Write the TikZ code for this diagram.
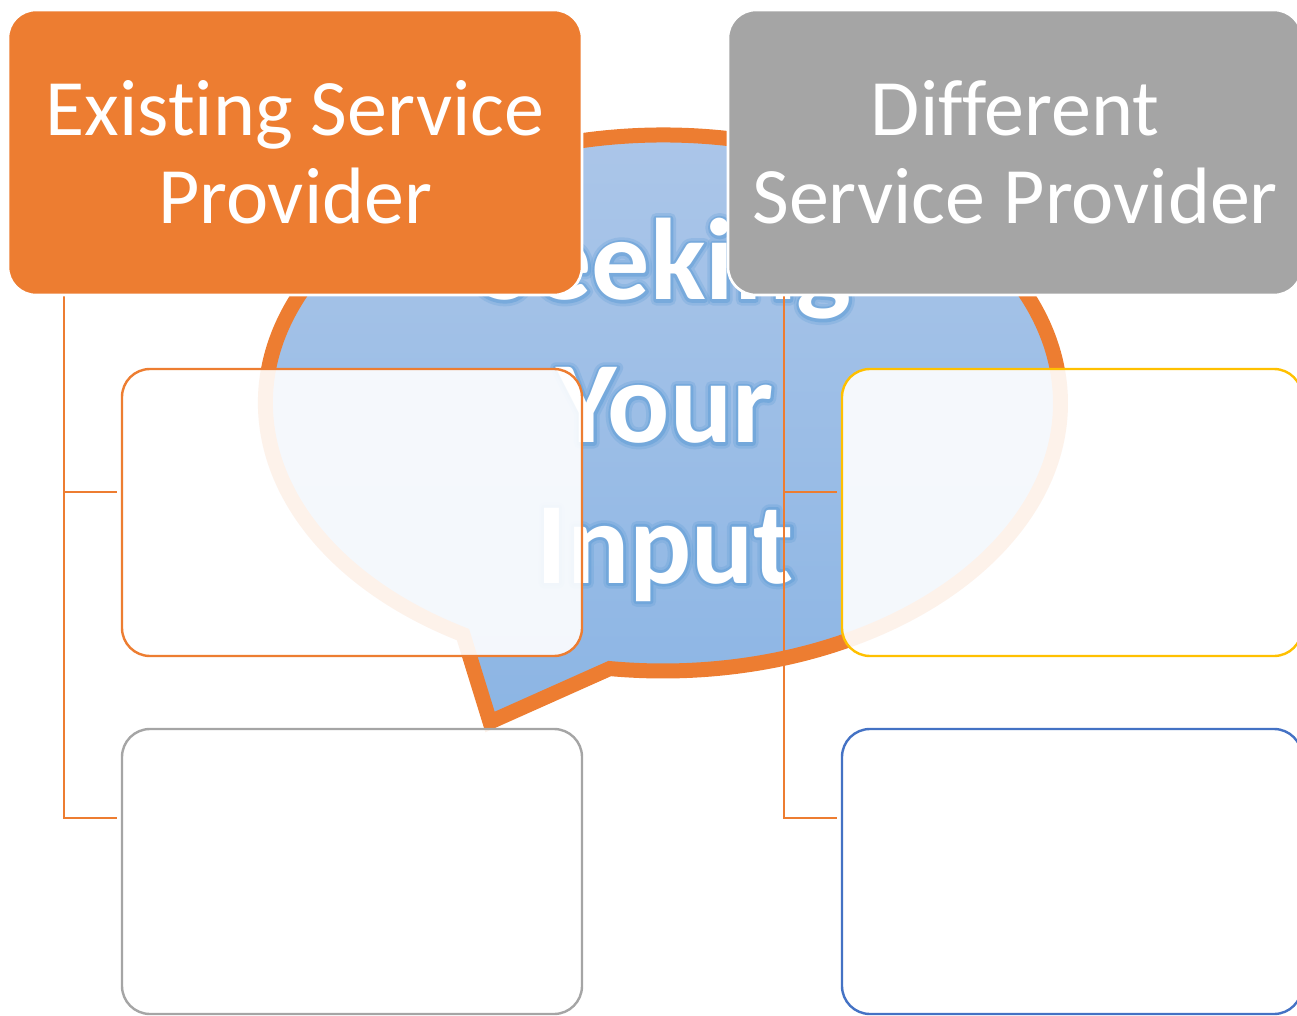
\documentclass[tikz,border=0pt]{standalone}
\usepackage{fontspec}
\setmainfont{Carlito}[Ligatures=CommonOff]
\definecolor{corange}{HTML}{ED7D31}
\definecolor{cgray}{HTML}{A5A5A5}
\definecolor{cgold}{HTML}{FFC000}
\definecolor{cblue}{HTML}{4472C4}
\definecolor{bubtop}{RGB}{173,199,233}
\definecolor{bubbot}{RGB}{140,181,228}
% outline-only text (stroke text render mode), used as a soft blue glow
\newcommand\halotext[2]{\special{pdf:literal direct 1 Tr #1 w 1 j 0.357 0.608 0.835 RG}#2\special{pdf:literal direct 0 Tr}}
\tikzset{
  hdr/.style={rounded corners=14pt, draw=white, line width=1.3pt, minimum width=287pt,
    minimum height=142.5pt, inner sep=0pt, text=white, align=center,
    font=\fontsize{40pt}{44pt}\selectfont},
  panel/.style={rounded corners=14pt, line width=1.2pt, fill=white, fill opacity=0.9,
    minimum width=230pt, minimum height=143.5pt, inner sep=0pt},
  conn/.style={draw=corange, line width=1pt},
  bigword/.style={anchor=base, inner sep=0pt, text=white,
    font=\fontsize{58pt}{70pt}\selectfont\bfseries},
}
\begin{document}
\begin{tikzpicture}[x=0.5pt, y=-0.5pt]
\useasboundingbox (0,0) rectangle (1297,1016);
% speech bubble
\path[top color=bubtop, bottom color=bubbot, draw=corange, line width=7.5pt, line join=miter]
  (463,634.6) arc[start angle=120.2, end angle=457.7, x radius=397.5, y radius=268]
  -- (490,722) -- cycle;
% glow layers of the words
\begin{scope}[draw opacity=0.25]
\node[bigword] (gs) at (665,300) {\halotext{5.5}{Seeking}};
\node[bigword] (gy) at (665,443) {\halotext{5.5}{Your}};
\node[bigword] (gi) at (665,583) {\halotext{5.5}{Input}};
\end{scope}
\begin{scope}[draw opacity=0.45]
\node[bigword] (hs) at (665,300) {\halotext{2.8}{Seeking}};
\node[bigword] (hy) at (665,443) {\halotext{2.8}{Your}};
\node[bigword] (hi) at (665,583) {\halotext{2.8}{Input}};
\end{scope}
% white words
\node[bigword] (ws) at (665,300) {Seeking};
\node[bigword] (wy) at (665,443) {Your};
\node[bigword] (wi) at (665,583) {Input};
% coordinates for connectors
\coordinate (lt) at (64,295);
\coordinate (lb1) at (117,492);
\coordinate (lb2) at (117,818);
\coordinate (rt) at (784,295);
\coordinate (rb1) at (837,492);
\coordinate (rb2) at (837,818);
\draw[conn] (lt) |- (lb1);
\draw[conn] (lt) |- (lb2);
\draw[conn] (rt) |- (rb1);
\draw[conn] (rt) |- (rb2);
% panels
\node[panel, draw=corange] (p1) at (352,512.5) {};
\node[panel, draw=cgray, minimum height=142.5pt] (p2) at (352,871.5) {};
\node[panel, draw=cgold] (p3) at (1072,512.5) {};
\node[panel, draw=cblue, minimum height=142.5pt] (p4) at (1072,871.5) {};
% headers
\node[hdr, fill=corange] (esp) at (295,152.5) {Existing Service\\Provider};
\node[hdr, fill=cgray] (dsp) at (1015,152.5) {Different\\Service Provider};
\end{tikzpicture}
\end{document}
